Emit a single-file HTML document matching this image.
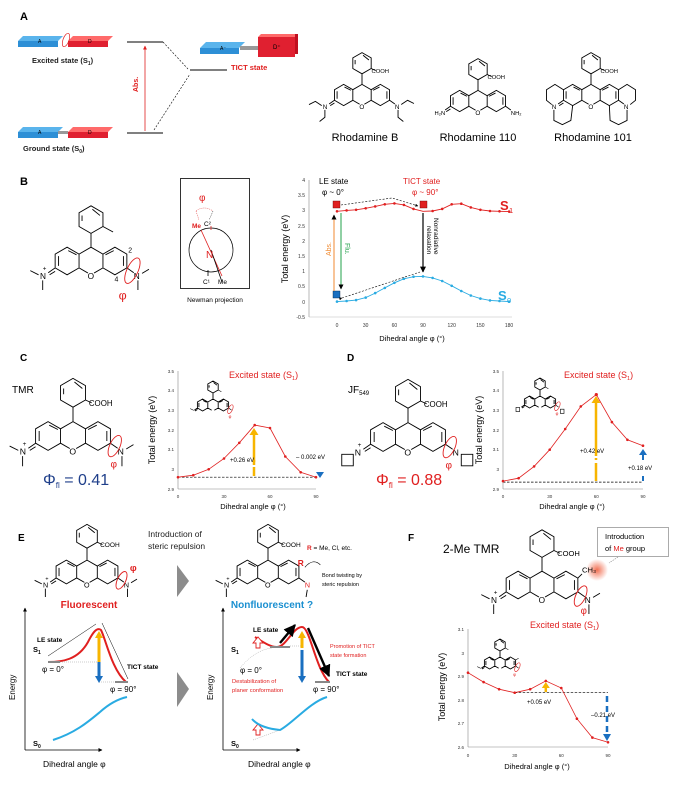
<!DOCTYPE html>
<html><head><meta charset="utf-8"><style>
html,body{margin:0;padding:0;background:#fff}
svg{display:block}
text{font-family:"Liberation Sans",sans-serif}
</style></head><body>
<svg width="675" height="786" viewBox="0 0 675 786" xmlns="http://www.w3.org/2000/svg">
<defs>
<g id="core" fill="none" stroke="#000" stroke-width="0.9">
<path d="M-8.66,-5 L0,-10 L8.66,-5 L8.66,5 L0,10 L-8.66,5 Z M-8.66,-5 L-17.32,-10 L-25.98,-5 L-25.98,5 L-17.32,10 L-8.66,5 M8.66,-5 L17.32,-10 L25.98,-5 L25.98,5 L17.32,10 L8.66,5 M0,-10 L0,-20 M0,-20 L8.66,-25 L8.66,-35 L0,-40 L-8.66,-35 L-8.66,-25 Z M-23.5,-3.5 L-23.5,3.5 M-16.5,-7.5 L-10.5,-4.5 M16.5,-7.5 L10.5,-4.5 M23.5,-3.5 L23.5,3.5 M-6.5,-29 L-6.5,-33 M6.5,-33 L1,-37.5 M-25.98,5 L-31,8.5 M-26,7.5 L-30,10" vector-effect="non-scaling-stroke"/>
<circle cx="0" cy="10" r="2.6" fill="#fff" stroke="none"/>
</g>
<marker id="ab" viewBox="0 0 10 10" refX="9" refY="5" markerWidth="5" markerHeight="5" orient="auto"><path d="M0,0 L10,5 L0,10Z" fill="#000"/></marker>
<marker id="ar" viewBox="0 0 10 10" refX="9" refY="5" markerWidth="5" markerHeight="5" orient="auto"><path d="M0,0 L10,5 L0,10Z" fill="#e02020"/></marker>
<radialGradient id="glow"><stop offset="0" stop-color="#f06040" stop-opacity="0.9"/><stop offset="1" stop-color="#f06040" stop-opacity="0"/></radialGradient>
</defs>

<!-- ===== Panel A ===== -->
<text x="20" y="20" font-size="11" font-weight="bold">A</text>
<polygon points="18,41 23,36 63,36 58,41" fill="#5ab4ec"/><rect x="18" y="41" width="40" height="6" fill="#2d8fd6"/><text x="38" y="43" font-size="5">A</text>
<polygon points="68,41 73,36 113,36 108,41" fill="#ff6a6a"/><rect x="68" y="41" width="40" height="6" fill="#e02030"/><text x="88" y="43" font-size="5">D</text>
<ellipse cx="66" cy="40" rx="3" ry="7" transform="rotate(20 66 40)" fill="none" stroke="#e02020" stroke-width="0.7"/>
<text x="32" y="63" font-size="7.5" font-weight="bold" fill="#222">Excited state (S<tspan font-size="5" dy="2">1</tspan><tspan dy="-2">)</tspan></text>
<polygon points="18,132 23,127 63,127 58,132" fill="#5ab4ec"/><rect x="18" y="132" width="40" height="6" fill="#2d8fd6"/><text x="38" y="134" font-size="5">A</text>
<rect x="58" y="131" width="10" height="3" fill="#999"/>
<polygon points="68,132 73,127 113,127 108,132" fill="#ff6a6a"/><rect x="68" y="132" width="40" height="6" fill="#e02030"/><text x="88" y="134" font-size="5">D</text>
<text x="23" y="151" font-size="7.5" font-weight="bold" fill="#222">Ground state (S<tspan font-size="5" dy="2">0</tspan><tspan dy="-2">)</tspan></text>
<line x1="127" y1="42" x2="163" y2="42" stroke="#000" stroke-width="1"/>
<line x1="127" y1="133" x2="163" y2="133" stroke="#000" stroke-width="1"/>
<line x1="145" y1="131" x2="145" y2="46" stroke="#e02020" stroke-width="0.8" marker-end="url(#ar)"/>
<text transform="translate(138,92) rotate(-90)" font-size="7" fill="#e02020" font-weight="bold">Abs.</text>
<line x1="190" y1="70" x2="227" y2="70" stroke="#000" stroke-width="1"/>
<line x1="163" y1="42" x2="188" y2="69" stroke="#000" stroke-width="0.6" stroke-dasharray="2,1.5"/>
<line x1="154" y1="130" x2="190" y2="74" stroke="#000" stroke-width="0.6" stroke-dasharray="2,1.5"/>
<text x="231" y="70" font-size="7.5" fill="#e02020" font-weight="bold">TICT state</text>
<polygon points="200,48 206,42 245,42 239,48" fill="#5ab4ec"/><rect x="200" y="48" width="39" height="6" fill="#2d8fd6"/><text x="220" y="50" font-size="5">A⁻</text>
<rect x="240" y="46" width="18" height="4" fill="#999"/>
<polygon points="258,37 261,34 298,34 295,37" fill="#ff6a6a"/><rect x="258" y="37" width="37" height="20" fill="#e02030"/><rect x="295" y="34" width="3" height="20" fill="#c01020"/><text x="273" y="49" font-size="6">D⁺</text>

<g transform="translate(362,95) scale(1.06)"><use href="#core"/>
<text x="-2.5" y="13" font-size="6">O</text><text x="-37" y="13" font-size="6">N</text><text x="31" y="13" font-size="6">N</text>
<text x="9" y="-21" font-size="5.5">COOH</text>
<path d="M8.66,-25 L13,-23 M25.98,5 L31,8.5 M-38,10 L-44,6 L-50,9 M-35,14 L-35,21 L-40,25 M37,9 L43,5 L49,8 M34,14 L34,21 L39,25" fill="none" stroke="#000" stroke-width="0.9" vector-effect="non-scaling-stroke"/>
</g>
<text x="365" y="141" font-size="11" text-anchor="middle">Rhodamine B</text>
<g transform="translate(478,101) scale(1.06)"><use href="#core"/>
<text x="-2.5" y="13" font-size="6">O</text><text x="-41" y="13" font-size="5.5">H₂N</text><text x="31" y="13" font-size="5.5">NH₂</text>
<text x="9" y="-21" font-size="5.5">COOH</text>
<path d="M8.66,-25 L13,-23 M25.98,5 L31,8.5" fill="none" stroke="#000" stroke-width="0.9" vector-effect="non-scaling-stroke"/>
</g>
<text x="478" y="141" font-size="11" text-anchor="middle">Rhodamine 110</text>
<g transform="translate(591,95) scale(1.06)"><use href="#core"/>
<text x="-2.5" y="13" font-size="6">O</text><text x="-37" y="13" font-size="6">N</text><text x="31" y="13" font-size="6">N</text>
<text x="9" y="-21" font-size="5.5">COOH</text>
<path d="M8.66,-25 L13,-23 M25.98,5 L31,8.5 M-25.98,-5 L-34,-10 L-42,-5 L-42,5 L-37,9 M-35,14 L-35,24 L-27,28 L-19,24 L-17.32,10 M25.98,-5 L34,-10 L42,-5 L42,5 L37,9 M34,14 L34,24 L26,28 L18,24 L17.32,10" fill="none" stroke="#000" stroke-width="0.9" vector-effect="non-scaling-stroke"/>
</g>
<text x="593" y="141" font-size="11" text-anchor="middle">Rhodamine 101</text>

<!-- ===== Panel B ===== -->
<text x="20" y="185" font-size="11" font-weight="bold">B</text>
<g transform="translate(91,261) scale(1.38)"><use href="#core"/>
<text x="-2.5" y="13" font-size="6">O</text><text x="-37" y="13" font-size="6">N</text><text x="-35" y="7" font-size="4.5">+</text><text x="31" y="13" font-size="6">N</text>
<path d="M8.66,-25 L16,-21 M25.98,5 L31,8.5 M-38,10 L-44,7 M-35,14 L-35,21 M37,9 L42,6 M34,14 L34,21" fill="none" stroke="#000" stroke-width="0.9" vector-effect="non-scaling-stroke"/>
<text x="27" y="-6" font-size="5">2</text><text x="17" y="15" font-size="5">4</text>
<ellipse cx="30" cy="7" rx="4" ry="10" transform="rotate(25 30 7)" fill="none" stroke="#e02020" stroke-width="0.9" vector-effect="non-scaling-stroke"/>
<text x="20" y="28" font-size="9" fill="#e02020">φ</text>
</g>
<rect x="180.5" y="178.5" width="69" height="110" fill="none" stroke="#000" stroke-width="0.8"/>
<text x="199" y="201" font-size="10" fill="#e02020">φ</text>
<path d="M196,211 Q204,205 213,211" fill="none" stroke="#e02020" stroke-width="0.5" stroke-dasharray="1,1"/>
<line x1="196" y1="211" x2="199" y2="220" stroke="#e02020" stroke-width="0.5" stroke-dasharray="1,1"/>
<line x1="213" y1="211" x2="209" y2="220" stroke="#000" stroke-width="0.5" stroke-dasharray="1,1"/>
<text x="192" y="228" font-size="6.5" fill="#e02020" font-weight="bold">Me</text><text x="204" y="226" font-size="6.5">C²</text>
<circle cx="211" cy="250" r="22" fill="none" stroke="#000" stroke-width="0.7"/>
<line x1="201" y1="230" x2="222" y2="276" stroke="#e02020" stroke-width="0.8"/>
<line x1="211" y1="226" x2="211" y2="230" stroke="#e02020" stroke-width="0.8"/>
<line x1="211" y1="250" x2="222" y2="282" stroke="#000" stroke-width="0.8"/>
<line x1="208" y1="270" x2="208" y2="276" stroke="#000" stroke-width="0.8"/>
<text x="206" y="258" font-size="10" fill="#e02020">N</text>
<text x="203" y="284" font-size="6.5">C¹</text><text x="218" y="284" font-size="6.5">Me</text>
<text x="215" y="302" font-size="6.5" text-anchor="middle">Newman projection</text>
<line x1="309" y1="180" x2="309" y2="317" stroke="#888" stroke-width="0.6"/>
<g font-size="5" fill="#333" text-anchor="end">
<text x="305" y="182">4</text><text x="305" y="197">3.5</text><text x="305" y="212">3</text><text x="305" y="228">2.5</text><text x="305" y="243">2</text><text x="305" y="258">1.5</text><text x="305" y="273">1</text><text x="305" y="288">0.5</text><text x="305" y="304">0</text><text x="305" y="319">-0.5</text>
</g>
<line x1="309" y1="317" x2="512" y2="317" stroke="#bbb" stroke-width="0.5"/>
<g font-size="5" fill="#333" text-anchor="middle"><text x="337" y="327">0</text><text x="365.7" y="327">30</text><text x="394.4" y="327">60</text><text x="423" y="327">90</text><text x="451.7" y="327">120</text><text x="480.4" y="327">150</text><text x="509" y="327">180</text></g>
<text transform="translate(288,249) rotate(-90)" font-size="9" text-anchor="middle">Total energy (eV)</text>
<text x="412" y="341" font-size="7.5" text-anchor="middle">Dihedral angle φ (°)</text>
<polyline points="337,211.3 346.6,210.4 356.1,209.8 365.7,208.3 375.2,206.4 384.8,204.3 394.4,203.4 403.9,204.9 413.5,208.9 423,211.3 432.6,211 442.2,208.9 451.7,204.3 461.3,203.7 470.8,207.4 480.4,209.8 490,211 499.5,211.3 509.1,211.6" fill="none" stroke="#e02020" stroke-width="0.9"/>
<g fill="#e02020"><circle cx="337" cy="211.3" r="1.3"/><circle cx="346.6" cy="210.4" r="1.3"/><circle cx="356.1" cy="209.8" r="1.3"/><circle cx="365.7" cy="208.3" r="1.3"/><circle cx="375.2" cy="206.4" r="1.3"/><circle cx="384.8" cy="204.3" r="1.3"/><circle cx="394.4" cy="203.4" r="1.3"/><circle cx="403.9" cy="204.9" r="1.3"/><circle cx="413.5" cy="208.9" r="1.3"/><circle cx="432.6" cy="211" r="1.3"/><circle cx="442.2" cy="208.9" r="1.3"/><circle cx="451.7" cy="204.3" r="1.3"/><circle cx="461.3" cy="203.7" r="1.3"/><circle cx="470.8" cy="207.4" r="1.3"/><circle cx="480.4" cy="209.8" r="1.3"/><circle cx="490" cy="211" r="1.3"/><circle cx="499.5" cy="211.3" r="1.3"/><circle cx="509.1" cy="211.6" r="1.3"/></g>
<polyline points="337,301.6 346.6,301 356.1,300.1 365.7,297.6 375.2,293.1 384.8,287.9 394.4,282.8 403.9,278.8 413.5,276.7 423,276.4 432.6,277.9 442.2,281 451.7,285.8 461.3,291 470.8,295.5 480.4,298.6 490,300.4 499.5,301 509.1,301.6" fill="none" stroke="#29abe2" stroke-width="0.9"/>
<g fill="#29abe2"><circle cx="337" cy="301.6" r="1.3"/><circle cx="346.6" cy="301" r="1.3"/><circle cx="356.1" cy="300.1" r="1.3"/><circle cx="365.7" cy="297.6" r="1.3"/><circle cx="375.2" cy="293.1" r="1.3"/><circle cx="384.8" cy="287.9" r="1.3"/><circle cx="394.4" cy="282.8" r="1.3"/><circle cx="403.9" cy="278.8" r="1.3"/><circle cx="413.5" cy="276.7" r="1.3"/><circle cx="423" cy="276.4" r="1.3"/><circle cx="432.6" cy="277.9" r="1.3"/><circle cx="442.2" cy="281" r="1.3"/><circle cx="451.7" cy="285.8" r="1.3"/><circle cx="461.3" cy="291" r="1.3"/><circle cx="470.8" cy="295.5" r="1.3"/><circle cx="480.4" cy="298.6" r="1.3"/><circle cx="490" cy="300.4" r="1.3"/><circle cx="499.5" cy="301" r="1.3"/><circle cx="509.1" cy="301.6" r="1.3"/></g>
<rect x="333" y="201" width="7" height="7" fill="#e02020" stroke="#600" stroke-width="0.4"/>
<rect x="420" y="201" width="7" height="7" fill="#e02020" stroke="#600" stroke-width="0.4"/>
<rect x="333" y="291" width="7" height="7" fill="#1a6fc0" stroke="#024" stroke-width="0.4"/>
<polyline points="341,205 392,198 418,206" fill="none" stroke="#000" stroke-width="0.6" stroke-dasharray="2,1.5" marker-end="url(#ab)"/>
<polyline points="342,298 420,272" fill="none" stroke="#000" stroke-width="0.6" stroke-dasharray="2,1.5" marker-start="url(#ab)"/>
<line x1="334" y1="291" x2="334" y2="215" stroke="#f08a30" stroke-width="1" marker-end="url(#ab)"/>
<line x1="341" y1="213" x2="341" y2="289" stroke="#22a04a" stroke-width="1" marker-end="url(#ab)"/>
<text transform="translate(331,256) rotate(-90)" font-size="7" fill="#f08a30">Abs.</text>
<text transform="translate(345,243) rotate(90)" font-size="7" fill="#22a04a">Flu.</text>
<line x1="423" y1="213" x2="423" y2="272" stroke="#000" stroke-width="1.2" marker-end="url(#ab)"/>
<text transform="translate(434,218) rotate(90)" font-size="6.5">Nonradiative</text>
<text transform="translate(427,226) rotate(90)" font-size="6.5">relaxation</text>
<text x="319" y="184" font-size="8">LE state</text><text x="322" y="195" font-size="8">φ ~ 0°</text>
<text x="403" y="184" font-size="8" fill="#e02020">TICT state</text><text x="412" y="195" font-size="8" fill="#e02020">φ ~ 90°</text>
<text x="500" y="210" font-size="13" font-weight="bold" fill="#e02020">S</text><text x="509" y="213" font-size="7.5" fill="#e02020">1</text>
<text x="498" y="300" font-size="13" font-weight="bold" fill="#29abe2">S</text><text x="507" y="303" font-size="7.5" fill="#29abe2">0</text>

<!-- ===== Panel C ===== -->
<text x="20" y="361" font-size="10" font-weight="bold">C</text>
<text x="12" y="393" font-size="10">TMR</text>
<g transform="translate(73,436) scale(1.44)"><use href="#core"/>
<text x="-2.5" y="13" font-size="6">O</text><text x="-37" y="13" font-size="6">N</text><text x="-35" y="7" font-size="4.5">+</text><text x="31" y="13" font-size="6">N</text>
<text x="11" y="-21" font-size="5.5">COOH</text>
<path d="M8.66,-25 L13,-23 M25.98,5 L31,8.5 M-38,10 L-44,7 M-35,14 L-35,21 M37,9 L42,6 M34,14 L34,21" fill="none" stroke="#000" stroke-width="0.9" vector-effect="non-scaling-stroke"/>
<ellipse cx="29" cy="7" rx="3.5" ry="8" transform="rotate(25 29 7)" fill="none" stroke="#e02020" stroke-width="0.9" vector-effect="non-scaling-stroke"/>
<text x="26" y="22" font-size="7" fill="#e02020">φ</text>
</g>
<text x="43" y="485" font-size="16" fill="#1f3f8a">Φ<tspan font-size="8" dy="3">fl</tspan><tspan dy="-3"> = 0.41</tspan></text>
<line x1="178" y1="371" x2="178" y2="489" stroke="#888" stroke-width="0.6"/><line x1="178" y1="489" x2="316" y2="489" stroke="#888" stroke-width="0.6"/>
<g font-size="4.5" fill="#333" text-anchor="end"><text x="174" y="373">3.5</text><text x="174" y="392">3.4</text><text x="174" y="412">3.3</text><text x="174" y="432">3.2</text><text x="174" y="451">3.1</text><text x="174" y="471">3</text><text x="174" y="491">2.9</text></g>
<g font-size="4.5" fill="#333" text-anchor="middle"><text x="178" y="498">0</text><text x="224" y="498">30</text><text x="270" y="498">60</text><text x="316" y="498">90</text></g>
<text transform="translate(155,430) rotate(-90)" font-size="9" text-anchor="middle">Total energy (eV)</text>
<text x="253" y="509" font-size="7.5" text-anchor="middle">Dihedral angle φ (°)</text>
<text x="229" y="378" font-size="9" fill="#e02020">Excited state (S<tspan font-size="5.5" dy="2">1</tspan><tspan dy="-2">)</tspan></text>
<line x1="178" y1="477.2" x2="316" y2="477.2" stroke="#000" stroke-width="0.7" stroke-dasharray="2.5,1.5"/>
<polyline points="178,477.2 193.3,475.2 208.7,469.3 224,458.5 239.3,442.8 254.7,425.1 270,428 285.3,456.5 300.7,472.3 316,477.2" fill="none" stroke="#e02020" stroke-width="0.8"/>
<g fill="#e02020"><circle cx="178" cy="477.2" r="1.3"/><circle cx="193.3" cy="475.2" r="1.3"/><circle cx="208.7" cy="469.3" r="1.3"/><circle cx="224" cy="458.5" r="1.3"/><circle cx="239.3" cy="442.8" r="1.3"/><circle cx="254.7" cy="425.1" r="1.3"/><circle cx="270" cy="428" r="1.3"/><circle cx="285.3" cy="456.5" r="1.3"/><circle cx="300.7" cy="472.3" r="1.3"/><circle cx="316" cy="477.2" r="1.3"/></g>
<line x1="254" y1="476" x2="254" y2="460" stroke="#f7b500" stroke-width="2.5" stroke-dasharray="9,2"/><line x1="254" y1="462" x2="254" y2="434" stroke="#f7b500" stroke-width="2.5"/><path d="M249.5,435 L254,428 L258.5,435Z" fill="#f7b500"/>
<text x="230" y="462" font-size="6">+0.26 eV</text>
<text x="296" y="459" font-size="6">– 0.002 eV</text>
<path d="M316,472 L324,472 L320,478Z" fill="#1a6fc0"/>
<g transform="translate(213,405) scale(0.6)"><use href="#core"/>
<path d="M8.66,-25 L14,-22 M25.98,5 L31,8.5 M-32,9 L-38,6" fill="none" stroke="#000" stroke-width="0.6" vector-effect="non-scaling-stroke"/>
<ellipse cx="29" cy="7" rx="3.5" ry="8" transform="rotate(25 29 7)" fill="none" stroke="#e02020" stroke-width="0.6" vector-effect="non-scaling-stroke"/>
<text x="26" y="22" font-size="7" fill="#e02020">φ</text></g>

<!-- ===== Panel D ===== -->
<text x="347" y="361" font-size="10" font-weight="bold">D</text>
<text x="348" y="393" font-size="10">JF<tspan font-size="6" dy="2">549</tspan></text>
<g transform="translate(408,437) scale(1.44)"><use href="#core"/>
<text x="-2.5" y="13" font-size="6">O</text><text x="-37" y="13" font-size="6">N</text><text x="-35" y="7" font-size="4.5">+</text><text x="31" y="13" font-size="6">N</text>
<text x="11" y="-21" font-size="5.5">COOH</text>
<path d="M8.66,-25 L13,-23 M25.98,5 L31,8.5 M-38,12 L-38,20 L-46,20 L-46,12 Z M37,12 L37,20 L45,20 L45,12 Z" fill="none" stroke="#000" stroke-width="0.9" vector-effect="non-scaling-stroke"/>
<ellipse cx="29" cy="7" rx="3.5" ry="8" transform="rotate(25 29 7)" fill="none" stroke="#e02020" stroke-width="0.9" vector-effect="non-scaling-stroke"/>
<text x="26" y="22" font-size="7" fill="#e02020">φ</text>
</g>
<text x="376" y="485" font-size="16" fill="#e02020">Φ<tspan font-size="8" dy="3">fl</tspan><tspan dy="-3"> = 0.88</tspan></text>
<line x1="503" y1="371" x2="503" y2="489" stroke="#888" stroke-width="0.6"/><line x1="503" y1="489" x2="643" y2="489" stroke="#888" stroke-width="0.6"/>
<g font-size="4.5" fill="#333" text-anchor="end"><text x="499" y="373">3.5</text><text x="499" y="392">3.4</text><text x="499" y="412">3.3</text><text x="499" y="432">3.2</text><text x="499" y="451">3.1</text><text x="499" y="471">3</text><text x="499" y="491">2.9</text></g>
<g font-size="4.5" fill="#333" text-anchor="middle"><text x="503" y="498">0</text><text x="549.7" y="498">30</text><text x="596.3" y="498">60</text><text x="643" y="498">90</text></g>
<text transform="translate(482,430) rotate(-90)" font-size="9" text-anchor="middle">Total energy (eV)</text>
<text x="572" y="509" font-size="7.5" text-anchor="middle">Dihedral angle φ (°)</text>
<text x="564" y="378" font-size="9" fill="#e02020">Excited state (S<tspan font-size="5.5" dy="2">1</tspan><tspan dy="-2">)</tspan></text>
<line x1="503" y1="482.1" x2="643" y2="482.1" stroke="#000" stroke-width="0.7" stroke-dasharray="2.5,1.5"/>
<polyline points="503,481.1 518.6,478.2 534.1,466.4 549.7,449.7 565.2,429 580.8,406.4 596.3,394.6 611.9,422.1 627.4,439.8 643,445.7" fill="none" stroke="#e02020" stroke-width="0.8"/>
<g fill="#e02020"><circle cx="503" cy="481.1" r="1.3"/><circle cx="518.6" cy="478.2" r="1.3"/><circle cx="534.1" cy="466.4" r="1.3"/><circle cx="549.7" cy="449.7" r="1.3"/><circle cx="565.2" cy="429" r="1.3"/><circle cx="580.8" cy="406.4" r="1.3"/><circle cx="596.3" cy="394.6" r="1.6"/><circle cx="611.9" cy="422.1" r="1.3"/><circle cx="627.4" cy="439.8" r="1.3"/><circle cx="643" cy="445.7" r="1.3"/></g>
<line x1="596" y1="481" x2="596" y2="458" stroke="#f7b500" stroke-width="2.5" stroke-dasharray="18,3"/><line x1="596" y1="456" x2="596" y2="402" stroke="#f7b500" stroke-width="2.5"/><path d="M591.5,403 L596,396 L600.5,403Z" fill="#f7b500"/>
<text x="580" y="453" font-size="6">+0.42 eV</text>
<text x="628" y="470" font-size="6">+0.18 eV</text>
<line x1="643" y1="481" x2="643" y2="476" stroke="#1a6fc0" stroke-width="2"/>
<line x1="643" y1="460" x2="643" y2="455" stroke="#1a6fc0" stroke-width="2"/><path d="M639,455 L643,449 L647,455Z" fill="#1a6fc0"/>
<g transform="translate(540,402) scale(0.6)"><use href="#core"/>
<path d="M8.66,-25 L14,-22 M25.98,5 L31,8.5 M-34,9 L-34,16 L-40,16 L-40,9Z M34,12 L34,19 L40,19 L40,12Z" fill="none" stroke="#000" stroke-width="0.6" vector-effect="non-scaling-stroke"/>
<ellipse cx="29" cy="7" rx="3.5" ry="8" transform="rotate(25 29 7)" fill="none" stroke="#e02020" stroke-width="0.6" vector-effect="non-scaling-stroke"/>
<text x="26" y="22" font-size="7" fill="#e02020">φ</text></g>

<!-- ===== Panel E ===== -->
<text x="18" y="541" font-size="10" font-weight="bold">E</text>
<text x="148" y="537" font-size="8.5" fill="#222">Introduction of</text>
<text x="148" y="549" font-size="8.5" fill="#222">steric repulsion</text>
<polygon points="177,565 189,581 177,597" fill="#8c8c8c"/>
<polygon points="177,672 189,689 177,707" fill="#8c8c8c"/>
<g transform="translate(87,572) scale(1.19)"><use href="#core"/>
<text x="-2.5" y="13" font-size="6">O</text><text x="-37" y="13" font-size="6">N</text><text x="-35" y="7" font-size="4.5">+</text><text x="31" y="13" font-size="6">N</text>
<text x="11" y="-21" font-size="5.5">COOH</text>
<path d="M8.66,-25 L13,-23 M25.98,5 L31,8.5 M-38,10 L-44,7 M-35,14 L-35,21 M37,9 L42,6 M34,14 L34,21" fill="none" stroke="#000" stroke-width="0.9" vector-effect="non-scaling-stroke"/>
<ellipse cx="29" cy="7" rx="3.5" ry="8" transform="rotate(25 29 7)" fill="none" stroke="#e02020" stroke-width="0.9" vector-effect="non-scaling-stroke"/>
<text x="36" y="-1" font-size="8" fill="#e02020" font-weight="bold">φ</text>
</g>
<text x="89" y="608" font-size="10" font-weight="bold" fill="#e02020" text-anchor="middle">Fluorescent</text>
<g transform="translate(268,572) scale(1.19)"><use href="#core"/>
<text x="-2.5" y="13" font-size="6">O</text><text x="-37" y="13" font-size="6">N</text><text x="-35" y="7" font-size="4.5">+</text><text x="31" y="13" font-size="6" fill="#e02020">N</text>
<text x="11" y="-21" font-size="5.5">COOH</text><text x="25" y="-5" font-size="7" fill="#e02020" font-weight="bold">R</text>
<path d="M8.66,-25 L13,-23 M25.98,5 L31,8.5 M-38,10 L-44,7 M-35,14 L-35,21 M33,15 L32,21" fill="none" stroke="#000" stroke-width="0.9" vector-effect="non-scaling-stroke"/>
<path d="M31,-4 Q38,-12 44,-6" fill="none" stroke="#000" stroke-width="0.6" vector-effect="non-scaling-stroke"/>
</g>
<text x="307" y="550" font-size="6.5"><tspan fill="#e02020" font-weight="bold">R</tspan> = Me, Cl, etc.</text>
<text x="322" y="577" font-size="5.5">Bond twisting by</text>
<text x="322" y="586" font-size="5.5">steric repulsion</text>
<text x="272" y="608" font-size="10" font-weight="bold" fill="#1a8fd0" text-anchor="middle">Nonfluorescent ?</text>
<g stroke="#000" stroke-width="0.8" fill="none">
<line x1="25" y1="750" x2="25" y2="608" marker-end="url(#ab)"/><line x1="25" y1="750" x2="102" y2="750" marker-end="url(#ab)"/>
<line x1="223" y1="750" x2="223" y2="608" marker-end="url(#ab)"/><line x1="223" y1="750" x2="300" y2="750" marker-end="url(#ab)"/>
</g>
<text transform="translate(15,700) rotate(-90)" font-size="8">Energy</text>
<text transform="translate(213,700) rotate(-90)" font-size="8">Energy</text>
<text x="43" y="767" font-size="8.5">Dihedral angle φ</text>
<text x="248" y="767" font-size="8.5">Dihedral angle φ</text>
<text x="33" y="652" font-size="7.5" font-weight="bold">S<tspan font-size="5" dy="2">1</tspan></text>
<text x="33" y="746" font-size="7.5" font-weight="bold">S<tspan font-size="5" dy="2">0</tspan></text>
<text x="231" y="652" font-size="7.5" font-weight="bold">S<tspan font-size="5" dy="2">1</tspan></text>
<text x="231" y="746" font-size="7.5" font-weight="bold">S<tspan font-size="5" dy="2">0</tspan></text>
<path d="M48,662 C62,662 78,660 88,642 C93,632 97,627 101,630 C106,640 112,670 126,682" fill="none" stroke="#e02020" stroke-width="2"/>
<line x1="48" y1="662" x2="60" y2="662" stroke="#888" stroke-width="2"/><line x1="115" y1="682" x2="128" y2="682" stroke="#888" stroke-width="2"/>
<line x1="60" y1="662" x2="99" y2="662" stroke="#999" stroke-width="0.6" stroke-dasharray="1,1"/>
<line x1="99" y1="682" x2="115" y2="682" stroke="#999" stroke-width="0.6" stroke-dasharray="1,1"/>
<line x1="99" y1="662" x2="99" y2="637" stroke="#f7b500" stroke-width="3"/><path d="M95,638 L99,631 L103,638Z" fill="#f7b500"/>
<line x1="99" y1="662" x2="99" y2="677" stroke="#1a6fc0" stroke-width="3"/><path d="M95,676 L99,683 L103,676Z" fill="#1a6fc0"/>
<line x1="48" y1="656" x2="96" y2="624" stroke="#000" stroke-width="0.5"/><line x1="102" y1="623" x2="128" y2="679" stroke="#000" stroke-width="0.5"/>
<text x="37" y="642" font-size="6.5" font-weight="bold">LE state</text>
<text x="127" y="669" font-size="6.5" font-weight="bold">TICT state</text>
<text x="42" y="672" font-size="8">φ = 0°</text>
<text x="110" y="692" font-size="8">φ = 90°</text>
<path d="M53,740 C75,733 88,722 100,712 C110,703 118,699 127,697" fill="none" stroke="#29abe2" stroke-width="2"/>
<path d="M255,637 C263,642 270,647 277,647 C286,647 293,627 302,627 C310,627 315,668 329,682" fill="none" stroke="#e02020" stroke-width="2"/>
<line x1="270" y1="647" x2="290" y2="647" stroke="#888" stroke-width="2"/><line x1="315" y1="682" x2="330" y2="682" stroke="#888" stroke-width="2"/>
<path d="M240,668 Q255,650 272,648" fill="none" stroke="#999" stroke-width="0.5" stroke-dasharray="1,1"/>
<line x1="290" y1="646" x2="302" y2="646" stroke="#999" stroke-width="0.6" stroke-dasharray="1,1"/>
<line x1="302" y1="648" x2="302" y2="637" stroke="#f7b500" stroke-width="3"/><path d="M298,638 L302,631 L306,638Z" fill="#f7b500"/>
<line x1="302" y1="650" x2="302" y2="677" stroke="#1a6fc0" stroke-width="3"/><path d="M298,676 L302,683 L306,676Z" fill="#1a6fc0"/>
<line x1="280" y1="643" x2="295" y2="625" stroke="#000" stroke-width="2.4" marker-end="url(#ab)"/>
<line x1="308" y1="628" x2="329" y2="676" stroke="#000" stroke-width="2.4" marker-end="url(#ab)"/>
<path d="M256,648 L256,643 L253,643 L258,637 L263,643 L260,643 L260,648Z" fill="#fff" stroke="#e02020" stroke-width="0.9"/>
<path d="M256,735 L256,730 L253,730 L258,724 L263,730 L260,730 L260,735Z" fill="#fff" stroke="#e02020" stroke-width="0.9"/>
<path d="M252,719 C258,726 270,729 280,730 C292,724 310,702 327,697" fill="none" stroke="#29abe2" stroke-width="2"/>
<path d="M253,740 L280,730" fill="none" stroke="#999" stroke-width="0.5" stroke-dasharray="1,1"/>
<text x="253" y="632" font-size="6.5" font-weight="bold">LE state</text>
<text x="330" y="648" font-size="5.5" fill="#e02020">Promotion of TICT</text>
<text x="330" y="657" font-size="5.5" fill="#e02020">state formation</text>
<text x="336" y="676" font-size="6.5" font-weight="bold">TICT state</text>
<text x="232" y="683" font-size="5.8" fill="#e02020">Destabilization of</text>
<text x="232" y="692" font-size="5.8" fill="#e02020">planer conformation</text>
<text x="240" y="673" font-size="8">φ = 0°</text>
<text x="313" y="692" font-size="8">φ = 90°</text>

<!-- ===== Panel F ===== -->
<text x="408" y="541" font-size="10" font-weight="bold">F</text>
<text x="443" y="553" font-size="12">2-Me TMR</text>
<rect x="597.5" y="527.5" width="71" height="29" fill="#fff" stroke="#888" stroke-width="0.7"/>
<text x="605" y="539" font-size="7.5">Introduction</text>
<text x="605" y="551" font-size="7.5">of <tspan fill="#e02020">Me</tspan> group</text>
<line x1="618" y1="557" x2="609" y2="563" stroke="#888" stroke-width="0.6" stroke-dasharray="1.5,1"/>
<circle cx="597" cy="570" r="11" fill="url(#glow)"/>
<g transform="translate(542,585) scale(1.38)"><use href="#core"/>
<text x="-2.5" y="13" font-size="6">O</text><text x="-37" y="13" font-size="6">N</text><text x="-35" y="7" font-size="4.5">+</text><text x="31" y="13" font-size="6">N</text>
<text x="11" y="-21" font-size="5.5">COOH</text><text x="29" y="-9" font-size="5.5">CH₃</text>
<path d="M8.66,-25 L13,-23 M25.98,5 L31,8.5 M25.98,-5 L29,-8 M-38,10 L-44,7 M-35,14 L-35,21 M37,9 L42,6 M34,14 L34,21" fill="none" stroke="#000" stroke-width="0.9" vector-effect="non-scaling-stroke"/>
<ellipse cx="28" cy="8" rx="3.5" ry="8" transform="rotate(25 28 8)" fill="none" stroke="#e02020" stroke-width="0.9" vector-effect="non-scaling-stroke"/>
<text x="28" y="21" font-size="7" fill="#e02020">φ</text>
</g>
<line x1="468" y1="629" x2="468" y2="747" stroke="#888" stroke-width="0.6"/><line x1="468" y1="747" x2="608" y2="747" stroke="#888" stroke-width="0.6"/>
<g font-size="4.5" fill="#333" text-anchor="end"><text x="464" y="631">3.1</text><text x="464" y="655">3</text><text x="464" y="678">2.9</text><text x="464" y="702">2.8</text><text x="464" y="725">2.7</text><text x="464" y="749">2.6</text></g>
<g font-size="4.5" fill="#333" text-anchor="middle"><text x="468" y="757">0</text><text x="514.7" y="757">30</text><text x="561.3" y="757">60</text><text x="608" y="757">90</text></g>
<text transform="translate(445,687) rotate(-90)" font-size="9" text-anchor="middle">Total energy (eV)</text>
<text x="537" y="769" font-size="7.5" text-anchor="middle">Dihedral angle φ (°)</text>
<text x="530" y="628" font-size="9" fill="#e02020">Excited state (S<tspan font-size="5.5" dy="2">1</tspan><tspan dy="-2">)</tspan></text>
<line x1="514.7" y1="692.7" x2="608" y2="692.7" stroke="#000" stroke-width="0.7" stroke-dasharray="2.5,1.5"/>
<polyline points="468,672.7 483.6,682.1 499.1,689.2 514.7,692.7 530.2,689.2 545.8,680.9 561.3,688 576.9,718.7 592.4,737.6 608,742.3" fill="none" stroke="#e02020" stroke-width="0.8"/>
<g fill="#e02020"><circle cx="468" cy="672.7" r="1.3"/><circle cx="483.6" cy="682.1" r="1.3"/><circle cx="499.1" cy="689.2" r="1.3"/><circle cx="514.7" cy="692.7" r="1.3"/><circle cx="530.2" cy="689.2" r="1.3"/><circle cx="545.8" cy="680.9" r="1.3"/><circle cx="561.3" cy="688" r="1.3"/><circle cx="576.9" cy="718.7" r="1.3"/><circle cx="592.4" cy="737.6" r="1.3"/><circle cx="608" cy="742.3" r="1.3"/></g>
<line x1="545.8" y1="692" x2="545.8" y2="687" stroke="#f7b500" stroke-width="2.5"/><path d="M541.8,688 L545.8,682 L549.8,688Z" fill="#f7b500"/>
<text x="527" y="704" font-size="6">+0.05 eV</text>
<line x1="607" y1="696" x2="607" y2="734" stroke="#1a6fc0" stroke-width="2.5" stroke-dasharray="6,4"/><path d="M603,734 L607,741 L611,734Z" fill="#1a6fc0"/>
<text x="591" y="717" font-size="6">–0.21 eV</text>
<g transform="translate(500,663) scale(0.6)"><use href="#core"/>
<path d="M8.66,-25 L14,-22 M25.98,5 L31,8.5 M25.98,-5 L31,-8 M-32,9 L-38,6" fill="none" stroke="#000" stroke-width="0.6" vector-effect="non-scaling-stroke"/>
<ellipse cx="29" cy="7" rx="3.5" ry="8" transform="rotate(25 29 7)" fill="none" stroke="#e02020" stroke-width="0.6" vector-effect="non-scaling-stroke"/>
<text x="22" y="22" font-size="7" fill="#e02020">φ</text></g>
</svg>
</body></html>
